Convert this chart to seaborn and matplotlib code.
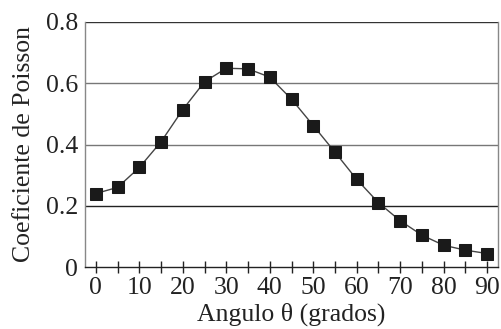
import matplotlib
matplotlib.use("Agg")
import matplotlib.pyplot as plt
import seaborn as sns
import pandas as pd
from matplotlib.ticker import MultipleLocator

angles = [0, 5, 10, 15, 20, 25, 30, 35, 40, 45, 50, 55, 60, 65, 70, 75, 80, 85, 90]
poisson = [0.240, 0.260, 0.325, 0.409, 0.514, 0.605, 0.649, 0.647, 0.620, 0.548,
           0.462, 0.375, 0.286, 0.210, 0.151, 0.104, 0.071, 0.055, 0.044]
yticks = [0, 0.2, 0.4, 0.6, 0.8]
ytick_labels = ["0", "0.2", "0.4", "0.6", "0.8"]
xticks = [0, 10, 20, 30, 40, 50, 60, 70, 80, 90]

sns.set_theme(style="white")
plt.rcParams['font.family'] = ['Liberation Serif', 'DejaVu Serif']

df = pd.DataFrame({"angle": angles, "nu": poisson})

fig = plt.figure(figsize=(5.01, 3.29), dpi=100)
ax = fig.add_axes([85/501, 1-267/329, (498-85)/501, (267-22)/329])

for y, c in zip([0.2, 0.4, 0.6, 0.8], ["#222222", "#777777", "#777777", "#333333"]):
    ax.axhline(y, color=c, lw=1.0, zorder=1)

sns.lineplot(data=df, x="angle", y="nu", ax=ax, color="#444444", lw=1.0,
             marker="s", markersize=9, markerfacecolor="#1a1a1a",
             markeredgecolor="#1a1a1a", zorder=3)

fs = 18.5
ax.set_xlim(-2.5, 92.5)
ax.set_ylim(0, 0.8)
ax.set_yticks(yticks)
ax.set_yticklabels(ytick_labels)
ax.set_xticks(xticks)
ax.xaxis.set_minor_locator(MultipleLocator(5))
ax.tick_params(axis="x", which="both", direction="inout", length=8, width=1,
               color="#222222", bottom=True, labelsize=fs, pad=3)
ax.tick_params(axis="y", left=False, length=0, labelsize=fs, pad=5)
for lab in ax.get_xticklabels() + ax.get_yticklabels():
    lab.set_color("#222222")

for s in ["left", "right"]:
    ax.spines[s].set_color("#888888")
    ax.spines[s].set_linewidth(1.0)
ax.spines["bottom"].set_color("#222222")
ax.spines["bottom"].set_linewidth(1.0)
ax.spines["top"].set_visible(False)

ax.set_xlabel("Angulo θ (grados)", fontsize=fs, color="#222222", labelpad=3)
ax.set_ylabel("Coeficiente de Poisson", fontsize=fs, color="#222222", labelpad=8)

fig.savefig("out.png", dpi=100, facecolor="white")
